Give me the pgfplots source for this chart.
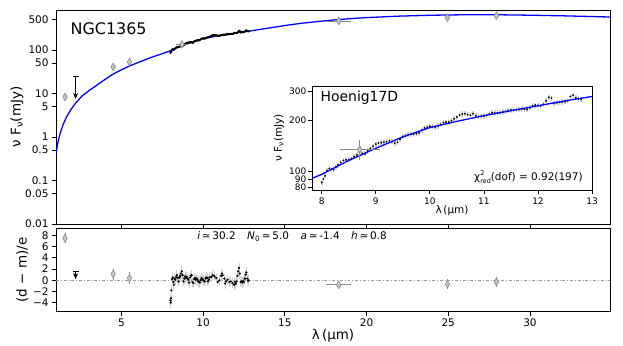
\documentclass[border=0pt]{standalone}
\usepackage{fontspec}
\setmainfont{DejaVu Sans}
\usepackage{pgfplots}
\pgfplotsset{compat=1.18}
\usepackage{pgfplotstable}
\usetikzlibrary{arrows.meta}

\definecolor{pfill}{HTML}{C4C4C4}
\definecolor{pedge}{HTML}{8A8A8A}
\definecolor{bandc}{HTML}{D0D0D0}

\pgfplotstableread{
x y
1.00 0.40
1.10 0.70
1.25 1.2
1.45 2.0
1.65 2.9
1.90 4.2
2.20 6.0
2.60 8.8
3.00 11.5
3.50 15.5
4.00 21
4.50 28
5.00 35
5.50 43
6.00 51
6.80 67
7.50 82
8.00 96
8.50 116
9.00 137
9.50 160
10.0 182
10.5 198
11.0 214
11.5 229
12.0 245
12.5 262
13.0 278
14.0 318
15.0 365
16.0 410
17.0 450
18.0 490
19.0 525
20.0 555
22.0 600
24.0 630
26.0 645
28.0 645
30.0 630
32.0 610
34.0 585
35.0 570
}\model

\pgfplotstableread{
x y
8.00 86
8.03 90
8.06 94
8.10 101
8.14 104
8.18 103
8.22 102
8.26 106
8.30 109
8.35 113
8.40 116
8.45 117
8.50 117
8.55 119
8.60 122
8.65 125
8.70 130
8.75 128
8.80 127
8.85 132
8.90 137
8.95 141
9.00 145
9.05 147
9.10 148
9.15 149
9.20 150
9.25 152
9.30 150
9.35 147
9.40 149
9.45 155
9.50 161
9.55 163
9.60 165
9.65 166
9.70 166
9.75 167
9.80 169
9.85 175
9.90 181
9.95 183
10.00 185
10.05 184
10.10 183
10.15 186
10.20 190
10.25 195
10.30 196
10.35 196
10.40 200
10.45 205
10.50 210
10.55 216
10.60 219
10.65 220
10.70 217
10.75 215
10.80 220
10.85 214
10.90 211
10.95 212
11.00 213
11.05 215
11.10 219
11.15 223
11.20 222
11.25 222
11.30 223
11.35 225
11.40 227
11.45 229
11.50 231
11.55 230
11.60 232
11.65 233
11.70 235
11.75 234
11.80 233
11.85 238
11.90 245
11.95 247
12.00 246
12.05 244
12.10 250
12.15 262
12.20 275
12.25 272
12.30 254
12.35 255
12.40 257
12.45 258
12.50 259
12.55 262
12.60 278
12.65 283
12.70 273
12.75 270
12.80 268
}\spec

\pgfplotstableread{
x y
8.00 -3.6
8.02 -4.0
8.04 -3.2
8.06 -1.8
8.10 0.2
8.14 0.5
8.18 -0.3
8.22 -0.8
8.26 0.3
8.30 0.1
8.35 0.6
8.40 0.9
8.45 0.4
8.50 -0.2
8.55 0.5
8.60 0.8
8.65 1.2
8.70 1.6
8.75 0.9
8.80 -0.2
8.85 0.3
8.90 0.7
8.95 0.4
9.00 0.6
9.05 0.3
9.10 0.1
9.15 -0.4
9.20 0.5
9.25 0.8
9.30 0.9
9.35 -0.3
9.40 -0.5
9.45 0.2
9.50 0.4
9.55 0.1
9.60 0.3
9.65 0.1
9.70 -0.2
9.75 -0.3
9.80 -0.4
9.85 0.0
9.90 0.4
9.95 0.2
10.00 0.1
10.05 -0.1
10.10 -0.2
10.15 0.3
10.20 0.5
10.25 0.4
10.30 -0.2
10.35 0.1
10.40 0.5
10.50 0.6
10.60 0.9
10.70 0.7
10.80 0.4
10.90 -0.3
11.00 0.0
11.10 0.8
11.15 1.2
11.20 0.9
11.30 0.3
11.35 -0.6
11.40 -0.2
11.50 0.1
11.60 -0.3
11.70 -0.2
11.80 -0.5
11.90 -0.8
11.95 -0.3
12.00 -0.6
12.05 -0.2
12.10 0.8
12.15 1.6
12.20 2.2
12.25 1.2
12.30 -0.3
12.35 -0.2
12.40 -0.4
12.45 -0.1
12.50 -0.3
12.55 0.3
12.60 1.0
12.65 1.4
12.70 0.3
12.75 -0.1
12.80 0.0
}\resspec

\pgfplotstableread{
x y ex ey
1.55 8.3 0 0
4.50 41 0 8
5.50 53 0 9
8.70 135 0.37 18
18.30 464 0.75 35
24.95 552 0 65
27.95 615 0 70
}\phot

\pgfplotstableread{
x y ex ey
1.55 7.5 0 0.9
4.50 1.1 0 1.0
5.50 0.4 0 1.0
18.30 -0.8 0.75 0.6
24.95 -0.7 0 0.9
27.95 -0.3 0 0.9
}\resphot

\pgfplotsset{
  myaxis/.style={
    scale only axis, anchor=south west,
    axis line style={line width=0.8pt, black},
    tick style={line width=0.8pt, black},
    tick align=outside, xtick pos=bottom, ytick pos=left,
    major tick length=4bp, minor tick length=0pt,
    tick label style={font=\fontsize{10.5}{12}\selectfont},
    /pgf/number format/assume math mode=true,
    label style={font=\fontsize{13.5}{15}\selectfont},
    clip mode=individual,
  },
  photstyle/.style={only marks, mark=diamond*, mark size=3.8pt,
    mark options={xscale=0.8, fill=pfill, draw=pedge, line width=0.6pt},
    error bars/x dir=both, error bars/x explicit,
    error bars/y dir=both, error bars/y explicit,
    error bars/error mark=none,
    error bars/error bar style={pedge, line width=0.9pt}},
}

\begin{document}
\begin{tikzpicture}
% ---------------- main panel
\begin{axis}[myaxis,
  at={(56bp,122bp)}, width=554bp, height=214bp,
  xmin=1, xmax=34.9, ymode=log, ymin=0.01, ymax=830,
  xtick={5,10,15,20,25,30}, xticklabels={},
  ytick={0.01,0.05,0.1,0.5,1,5,10,50,100,500},
  yticklabels={0.01,0.05,0.1,0.5,1,5,10,50,100,500},
  ylabel={ν F\textsubscript{ν}(mJy)},
  ylabel style={at={(axis description cs:-0.0704,0.5)}, anchor=center},
]
\addplot[blue, line width=1.3pt] table {\model};
\addplot[only marks, mark=*, mark size=0.9pt, black,
  error bars/.cd, y dir=both, y fixed relative=0.03, error mark=none,
  error bar style={bandc, line width=1pt}] table {\spec};
\addplot[photstyle] table[x error=ex, y error=ey] {\phot};
\addplot[black, line width=0.8pt, -{Stealth[length=6bp, width=5bp]}] coordinates {(2.2,25) (2.2,7.5)};
\addplot[only marks, mark=-, mark size=3pt, black, mark options={line width=0.8pt}] coordinates {(2.2,25)};
\node[anchor=west, font=\fontsize{16}{18}\selectfont] at (axis description cs:0.02,0.911) {NGC1365};
\end{axis}

% ---------------- residual panel
\begin{axis}[myaxis,
  at={(56bp,34.5bp)}, width=554bp, height=83bp,
  xmin=1, xmax=34.9, ymin=-5.57, ymax=9.24,
  xtick={5,10,15,20,25,30},
  ytick={-4,-2,0,2,4,6,8},
  yticklabels={−4,−2,0,2,4,6,8},
  xlabel={λ\,(µm)},
  xlabel style={at={(axis description cs:0.5,-0.295)}, anchor=center},
  ylabel={(d − m)/e},
  ylabel style={at={(axis description cs:-0.0605,0.5)}, anchor=center},
]
\addplot[gray!80, line width=0.7pt, dash dot, forget plot] coordinates {(1,0) (34.9,0)};
\addplot[only marks, mark=*, mark size=0.9pt, black,
  error bars/.cd, y dir=both, y fixed=0.9, error mark=none,
  error bar style={bandc, line width=1pt}] table {\resspec};
\addplot[photstyle] table[x error=ex, y error=ey] {\resphot};
\addplot[black, line width=0.8pt, -{Stealth[length=6bp, width=5bp]}] coordinates {(2.2,1.5) (2.2,0.2)};
\addplot[only marks, mark=-, mark size=3pt, black, mark options={line width=0.8pt}] coordinates {(2.2,1.5)};
\node[font=\fontsize{10.5}{12}\selectfont] at (axis description cs:0.426,0.9)
  {\textit{i}\,≃\,30.2\hspace{1.1em}\textit{N}\textsubscript{0}\,≃\,5.0\hspace{1.1em}\textit{a}\,≃\,-1.4\hspace{1.1em}\textit{h}\,≃\,0.8};
\end{axis}

% ---------------- inset
\begin{axis}[myaxis,
  at={(312bp,156bp)}, width=280bp, height=104bp,
  axis background/.style={fill=white},
  xmin=7.82, xmax=13, ymode=log, ymin=77.5, ymax=321,
  xtick={8,9,10,11,12,13},
  ytick={80,90,100,200,300}, yticklabels={80,90,100,200,300},
  tick label style={font=\fontsize{9}{10}\selectfont},
  yticklabel style={inner sep=1.5pt},
  label style={font=\fontsize{10.5}{12}\selectfont},
  xlabel={λ\,(µm)},
  xlabel style={at={(axis description cs:0.5,-0.2)}, anchor=center},
  ylabel={ν F\textsubscript{ν}(mJy)},
  ylabel style={at={(axis description cs:-0.118,0.5)}, anchor=center},
]
\addplot[only marks, mark=*, mark size=0.7pt, black,
  error bars/.cd, y dir=both, y fixed relative=0.035, error mark=none,
  error bar style={bandc, line width=1.6pt}] table {\spec};
\addplot[blue, line width=1.3pt] table {\model};
\addplot[photstyle] table[x error=ex, y error=ey] {\phot};
\node[anchor=west, font=\fontsize{14}{16}\selectfont] at (axis description cs:0.018,0.885) {Hoenig17D};
\node[anchor=east, font=\fontsize{10.5}{12}\selectfont] at (axis description cs:0.979,0.125)
  {χ\raisebox{-0.45ex}{\fontsize{6.5}{6}\selectfont\shortstack[l]{2\\red}}(dof) = 0.92(197)};
\end{axis}
\pgfresetboundingbox
\path (0,0) rectangle (623bp,346bp);
\end{tikzpicture}
\end{document}
